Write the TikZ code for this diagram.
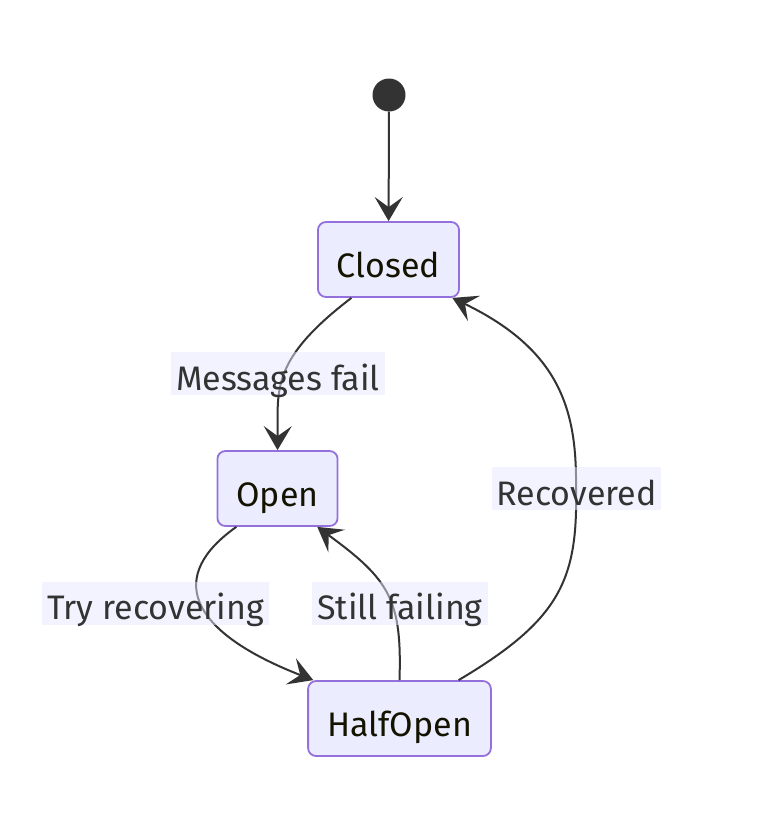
\documentclass[tikz,border=0pt]{standalone}
\usepackage{fontspec}
\setmainfont{Fira Sans}
\usepackage{tikz}
\usetikzlibrary{arrows.meta}

\definecolor{stateFill}{HTML}{ECECFF}
\definecolor{stateLine}{HTML}{9370DB}
\definecolor{edgeCol}{HTML}{333333}
\definecolor{lblFill}{HTML}{E8E8FF}
\definecolor{stateText}{HTML}{131300}
\newcommand{\bigfont}{\fontsize{34}{40}\selectfont}

\begin{document}
\begin{tikzpicture}[
  x=1pt, y=-1pt, font=\bigfont,
  >={Stealth[length=24pt, width=28pt, inset=10pt]},
  stateBox/.style={draw=stateLine, line width=1.8pt, fill=stateFill, rounded corners=8pt,
                   text=stateText, minimum height=75pt, inner xsep=19pt,
                   text height=40pt, text depth=5pt},
  initDot/.style={circle, fill=edgeCol, minimum size=33pt, inner sep=0pt},
  lbl/.style={fill=lblFill, fill opacity=0.5, text opacity=1, text=edgeCol,
              text height=38pt, text depth=5pt, inner ysep=0pt, inner xsep=5pt},
  arr/.style={->, line width=2pt, color=edgeCol},
]
\useasboundingbox (0,0) rectangle (766,822);

\node[initDot]  (start)    at (389,95) {};
\node[stateBox] (closed)   at (388.5,259.5) {Closed};
\node[stateBox] (open)     at (277.5,488.5) {Open};
\node[stateBox] (halfopen) at (399.5,718.5) {HalfOpen};

\draw[arr] (start) -- (closed);
\draw[arr] (closed.-134) .. controls (270,360) and (278,390) .. (open.north);
\draw[arr] (open.-137) .. controls (168,575) and (185,630) .. (halfopen.156);
\draw[arr] (halfopen.north) .. controls (402,600) and (390,580) .. (open.-44);
\draw[arr] (halfopen.33) .. controls (560,620) and (578,580) .. (576,488)
                         .. controls (577,410) and (560,350) .. (closed.-31);

\node[lbl] (msgFail)  at (278,373.5) {Messages fail};
\node[lbl] (tryRec)   at (155.5,603) {Try recovering};
\node[lbl] (stillF)   at (400,603)   {Still failing};
\node[lbl] (recov)    at (576.5,488.5) {Recovered};
\end{tikzpicture}
\end{document}
